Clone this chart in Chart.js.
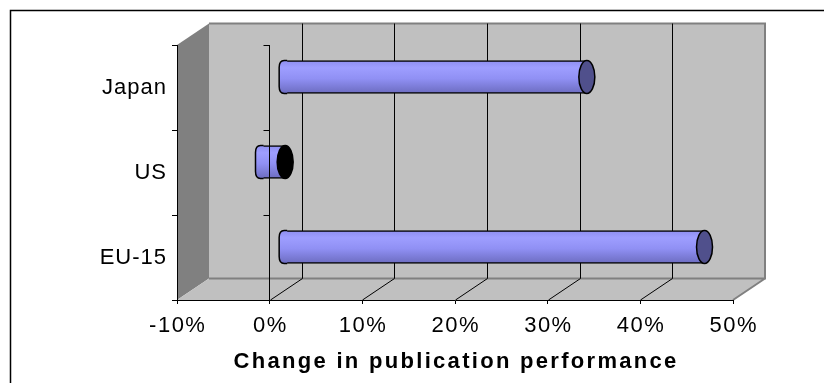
<!DOCTYPE html>
<html>
<head>
<meta charset="utf-8">
<script src="https://cdn.jsdelivr.net/npm/chart.js@4.4.1/dist/chart.umd.min.js"></script>
<style>
  html, body { margin: 0; padding: 0; background: #ffffff; }
  #wrap { width: 824px; height: 383px; }
</style>
</head>
<body>
<div id="wrap"><canvas id="c" width="824" height="383"></canvas></div>
<script>
// ---- data ----
const categories = ['Japan', 'US', 'EU-15'];
const changeValues = [32.5, -2.5, 45.2];          // % change in publication performance
const xTickValues = [-10, 0, 10, 20, 30, 40, 50];  // tick labels (as %)
const axisTitle = 'Change in publication performance';

// ---- styling constants ----
const FONT = "'Liberation Sans', Arial, sans-serif";
const DEPTH_X = 32, DEPTH_Y = -21.5;          // 3D depth offset of back wall
const BAR_SHIFT_X = 16, BAR_SHIFT_Y = -10.5;  // bars sit at mid depth

function patchScale(scale, labelSp, labelShift, titleSp, titleShift) {
  if (scale.__patched) return;
  scale.__patched = true;
  const dl = scale.drawLabels.bind(scale);
  const dt = scale.drawTitle.bind(scale);
  scale.drawLabels = function (area) {
    const c = this.ctx; c.save();
    c.letterSpacing = labelSp + 'px';
    c.translate(labelShift, 0);
    dl(area); c.restore();
  };
  scale.drawTitle = function () {
    const c = this.ctx; c.save();
    c.letterSpacing = titleSp + 'px';
    c.translate(titleShift, 0);
    dt(); c.restore();
  };
}

function makeGradient(ctx, yc, h) {
  const g = ctx.createLinearGradient(0, yc - h / 2, 0, yc + h / 2);
  g.addColorStop(0, '#8e8ef0');
  g.addColorStop(0.22, '#9e9eff');
  g.addColorStop(0.55, '#9090f4');
  g.addColorStop(1, '#6c6cc0');
  return g;
}

const wall3d = {
  id: 'wall3d',
  beforeDraw(chart) {
    const { ctx, chartArea: a, scales: { x, y } } = chart;
    patchScale(x, 1.5, 0.75, 2.3, 1.1);
    patchScale(y, 1, 1, 0, 0);
    const L = a.left, R = a.right, T = a.top, B = a.bottom;
    const dx = DEPTH_X, dy = DEPTH_Y;
    ctx.save();
    ctx.fillStyle = '#ffffff';
    ctx.fillRect(0, 0, chart.width, chart.height);
    // outer frame
    ctx.strokeStyle = '#000'; ctx.lineWidth = 1.5;
    ctx.strokeRect(10.5, 10.5, 1000, 1000);
    // back wall
    ctx.fillStyle = '#c0c0c0';
    ctx.fillRect(L + dx, T + dy, R - L, B - T);
    // side wall
    ctx.fillStyle = '#808080';
    ctx.beginPath();
    ctx.moveTo(L, T); ctx.lineTo(L + dx, T + dy); ctx.lineTo(L + dx, B + dy); ctx.lineTo(L, B);
    ctx.closePath(); ctx.fill();
    // floor
    ctx.fillStyle = '#c0c0c0';
    ctx.beginPath();
    ctx.moveTo(L, B); ctx.lineTo(R, B); ctx.lineTo(R + dx, B + dy); ctx.lineTo(L + dx, B + dy);
    ctx.closePath(); ctx.fill();
    // gray edges
    ctx.strokeStyle = '#808080'; ctx.lineWidth = 2;
    ctx.beginPath();
    ctx.moveTo(L + dx, T + dy); ctx.lineTo(R + dx, T + dy); ctx.lineTo(R + dx, B + dy);
    ctx.lineTo(L + dx, B + dy);
    ctx.moveTo(R + dx, B + dy); ctx.lineTo(R, B);
    ctx.stroke();
    // gridlines on back wall and floor diagonals
    ctx.strokeStyle = '#000'; ctx.lineWidth = 1;
    ctx.beginPath();
    xTickValues.forEach(v => {
      if (v === x.min || v === x.max) return;
      const px = Math.round(x.getPixelForValue(v)) + 0.5;
      ctx.moveTo(px + dx, T + dy); ctx.lineTo(px + dx, B + dy);
      ctx.moveTo(px, B); ctx.lineTo(px + dx, B + dy);
    });
    ctx.stroke();
    ctx.restore();
  },
  beforeDatasetsDraw(chart) {
    chart.ctx.save();
    chart.ctx.translate(BAR_SHIFT_X, BAR_SHIFT_Y);
  },
  afterDatasetsDraw(chart) {
    const ctx = chart.ctx;
    const meta = chart.getDatasetMeta(0);
    meta.data.forEach((el, i) => {
      const left = Math.min(el.x, el.base);
      const right = Math.max(el.x, el.base);
      const h = el.height, top = el.y - h / 2, bot = el.y + h / 2;
      // rounded left end of the cylinder
      ctx.beginPath();
      ctx.moveTo(left + 1, top);
      ctx.lineTo(left - 2, top);
      ctx.quadraticCurveTo(left - 7, top, left - 7, top + 7);
      ctx.lineTo(left - 7, bot - 7);
      ctx.quadraticCurveTo(left - 7, bot, left - 2, bot);
      ctx.lineTo(left + 1, bot);
      ctx.fillStyle = makeGradient(ctx, el.y, h);
      ctx.fill();
      ctx.lineWidth = 1.5; ctx.strokeStyle = '#000';
      ctx.stroke();
      // end cap at the right
      ctx.beginPath();
      ctx.ellipse(right, el.y, 8, h / 2, 0, 0, Math.PI * 2);
      ctx.fillStyle = changeValues[i] >= 0 ? '#50508c' : '#000000';
      ctx.fill();
      ctx.stroke();
    });
    ctx.restore();
    // value-axis zero line at the front with small ticks
    const { chartArea: a, scales: { x } } = chart;
    const px = Math.round(x.getPixelForValue(0)) - 0.5;
    ctx.save();
    ctx.strokeStyle = '#000'; ctx.lineWidth = 1;
    ctx.beginPath();
    ctx.moveTo(px, a.top); ctx.lineTo(px, a.bottom);
    const n = categories.length;
    for (let i = 0; i <= n; i++) {
      const yy = Math.round(a.top + i * (a.bottom - a.top) / n) + 0.5;
      ctx.moveTo(px - 6, yy); ctx.lineTo(px, yy);
    }
    ctx.stroke();
    ctx.restore();
  }
};

function barGradient(context) {
  const chart = context.chart;
  const y = chart.scales && chart.scales.y;
  if (!y || context.dataIndex === undefined) return '#9999ff';
  const yc = y.getPixelForValue(context.dataIndex);
  if (!isFinite(yc)) return '#9999ff';
  return makeGradient(chart.ctx, yc, 33);
}

new Chart(document.getElementById('c'), {
  type: 'bar',
  data: {
    labels: categories,
    datasets: [{
      data: changeValues,
      backgroundColor: barGradient,
      borderColor: '#000',
      borderWidth: 1.5,
      borderSkipped: c => (c.raw >= 0 ? 'start' : 'end'),
      borderRadius: 0,
      barThickness: 33,
      clip: false
    }]
  },
  options: {
    indexAxis: 'y',
    responsive: false,
    devicePixelRatio: 1,
    animation: false,
    layout: { padding: { left: 0, top: 45, right: 91, bottom: 0 } },
    plugins: { legend: { display: false }, tooltip: { enabled: false } },
    scales: {
      x: {
        type: 'linear',
        min: -10, max: 50,
        afterBuildTicks: s => { s.ticks = xTickValues.map(v => ({ value: v })); },
        afterFit: s => { s.height = 83; },
        grid: { drawOnChartArea: false, drawTicks: true, tickLength: 4, color: '#000' },
        border: { display: true, color: '#000', width: 1 },
        ticks: {
          color: '#000', padding: 9,
          font: { family: FONT, size: 22 },
          callback: v => v + '%'
        },
        title: {
          display: true, text: axisTitle, color: '#000',
          font: { family: FONT, size: 22, weight: 'bold' },
          padding: { top: 0, bottom: 8 }
        }
      },
      y: {
        type: 'category',
        afterFit: s => { s.width = 177; },
        grid: { offset: true, drawOnChartArea: false, drawTicks: true, tickLength: 5, color: '#000' },
        border: { display: true, color: '#000', width: 1 },
        ticks: { color: '#000', padding: 6, font: { family: FONT, size: 22 } }
      }
    }
  },
  plugins: [wall3d]
});
</script>
</body>
</html>
